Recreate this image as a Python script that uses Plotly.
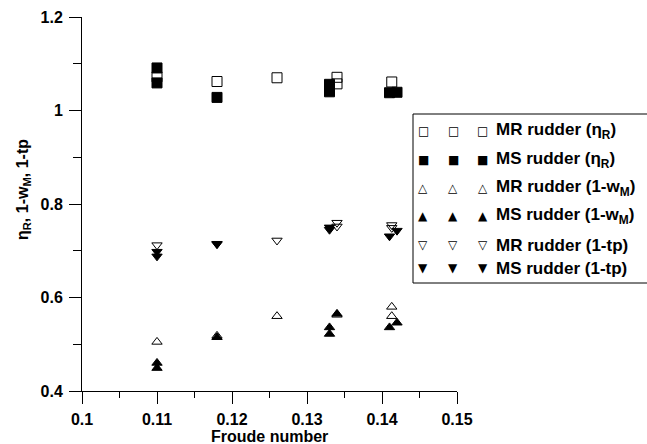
import plotly.graph_objects as go

# Froude number / coefficient readings per series
mr_eta_x = [0.110, 0.118, 0.126, 0.134, 0.134, 0.1413]
mr_eta_y = [1.072, 1.062, 1.070, 1.071, 1.057, 1.061]

ms_eta_x = [0.110, 0.110, 0.118, 0.133, 0.133, 0.141, 0.142]
ms_eta_y = [1.091, 1.059, 1.028, 1.056, 1.040, 1.038, 1.039]

mr_wm_x = [0.110, 0.118, 0.126, 0.134, 0.1413, 0.1413]
mr_wm_y = [0.505, 0.518, 0.560, 0.563, 0.580, 0.560]

ms_wm_x = [0.110, 0.110, 0.118, 0.133, 0.133, 0.134, 0.141, 0.142]
ms_wm_y = [0.460, 0.449, 0.515, 0.536, 0.522, 0.565, 0.536, 0.546]

mr_tp_x = [0.110, 0.118, 0.126, 0.134, 0.134, 0.1413, 0.1413]
mr_tp_y = [0.712, 0.715, 0.722, 0.760, 0.752, 0.755, 0.749]

ms_tp_x = [0.110, 0.110, 0.118, 0.133, 0.133, 0.141, 0.142]
ms_tp_y = [0.698, 0.688, 0.714, 0.750, 0.745, 0.731, 0.743]

x_ticks = [0.1, 0.11, 0.12, 0.13, 0.14, 0.15]
x_tick_labels = ["0.1", "0.11", "0.12", "0.13", "0.14", "0.15"]
y_ticks = [0.4, 0.6, 0.8, 1.0, 1.2]
y_tick_labels = ["0.4", "0.6", "0.8", "1", "1.2"]

series = [
    ("MR rudder (η<sub>R</sub>)", mr_eta_x, mr_eta_y, "square-open", "□"),
    ("MS rudder (η<sub>R</sub>)", ms_eta_x, ms_eta_y, "square", "■"),
    ("MR rudder (1-w<sub>M</sub>)", mr_wm_x, mr_wm_y, "triangle-up-open", "△"),
    ("MS rudder (1-w<sub>M</sub>)", ms_wm_x, ms_wm_y, "triangle-up", "▲"),
    ("MR rudder (1-tp)", mr_tp_x, mr_tp_y, "triangle-down-open", "▽"),
    ("MS rudder (1-tp)", ms_tp_x, ms_tp_y, "triangle-down", "▼"),
]

W, H = 647, 444
ML, MR, MT, MB = 82, 190, 17, 53
PW, PH = W - ML - MR, H - MT - MB


def px_x(px):
    return (px - ML) / PW


def px_y(py):
    return (H - MB - py) / PH


FONT = "Arial, Liberation Sans, sans-serif"

fig = go.Figure()
for name, xs, ys, sym, glyph in series:
    size = 10 if sym.startswith("square") else 9
    fig.add_trace(go.Scatter(
        x=xs, y=ys, mode="markers", name=name, showlegend=False,
        marker=dict(symbol=sym, size=size, color="black",
                    line=dict(color="black", width=1)),
    ))

# Boxed key: three sample glyphs then the series label on each row
row_y = [131, 160, 188, 216, 245, 268]
glyph_x = [423, 453, 483]
annotations = []
for (name, _, _, _, glyph), ry in zip(series, row_y):
    for gx in glyph_x:
        annotations.append(dict(
            x=px_x(gx), y=px_y(ry), xref="paper", yref="paper",
            text=glyph, showarrow=False, xanchor="center", yanchor="middle",
            font=dict(family="DejaVu Sans", size=12, color="black"),
        ))
    annotations.append(dict(
        x=px_x(494), y=px_y(ry), xref="paper", yref="paper",
        text=name, showarrow=False, xanchor="left", yanchor="middle",
        font=dict(family=FONT, size=17, color="black", weight="bold"),
    ))

# Axis titles
annotations.append(dict(
    x=px_x(24), y=px_y(190), xref="paper", yref="paper",
    text="η<sub>R</sub>, 1-w<sub>M</sub>, 1-tp", textangle=-90,
    showarrow=False, xanchor="center", yanchor="middle",
    font=dict(family=FONT, size=16, color="black", weight="bold"),
))
annotations.append(dict(
    x=0.5, y=px_y(436), xref="paper", yref="paper",
    text="Froude number", showarrow=False, xanchor="center", yanchor="middle",
    font=dict(family=FONT, size=16, color="black", weight="bold"),
))

shapes = [dict(
    type="rect", xref="paper", yref="paper",
    x0=px_x(413), x1=px_x(660), y0=px_y(283), y1=px_y(114),
    line=dict(color="black", width=1), fillcolor="white", layer="above",
)]

fig.update_layout(
    width=W, height=H,
    margin=dict(l=ML, r=MR, t=MT, b=MB, autoexpand=False),
    paper_bgcolor="white", plot_bgcolor="white",
    font=dict(family=FONT, color="black"),
    showlegend=False,
    annotations=annotations,
    shapes=shapes,
    xaxis=dict(
        range=[0.1, 0.15], tickvals=x_ticks, ticktext=x_tick_labels,
        ticks="outside", ticklen=12, tickcolor="black", tickwidth=1,
        ticklabelstandoff=2, automargin=False,
        minor=dict(dtick=0.005, ticks="outside", ticklen=6, tickcolor="black", showgrid=False),
        showline=True, linecolor="black", linewidth=1, showgrid=False, zeroline=False,
        tickfont=dict(family=FONT, size=16, color="black", weight="bold"),
    ),
    yaxis=dict(
        range=[0.4, 1.2], tickvals=y_ticks, ticktext=y_tick_labels,
        ticks="outside", ticklen=12, tickcolor="black", tickwidth=1,
        ticklabelstandoff=3, automargin=False,
        minor=dict(dtick=0.1, ticks="outside", ticklen=8, tickcolor="black", showgrid=False),
        showline=True, linecolor="black", linewidth=1, showgrid=False, zeroline=False,
        tickfont=dict(family=FONT, size=16, color="black", weight="bold"),
    ),
)

fig.write_html("out.html")
